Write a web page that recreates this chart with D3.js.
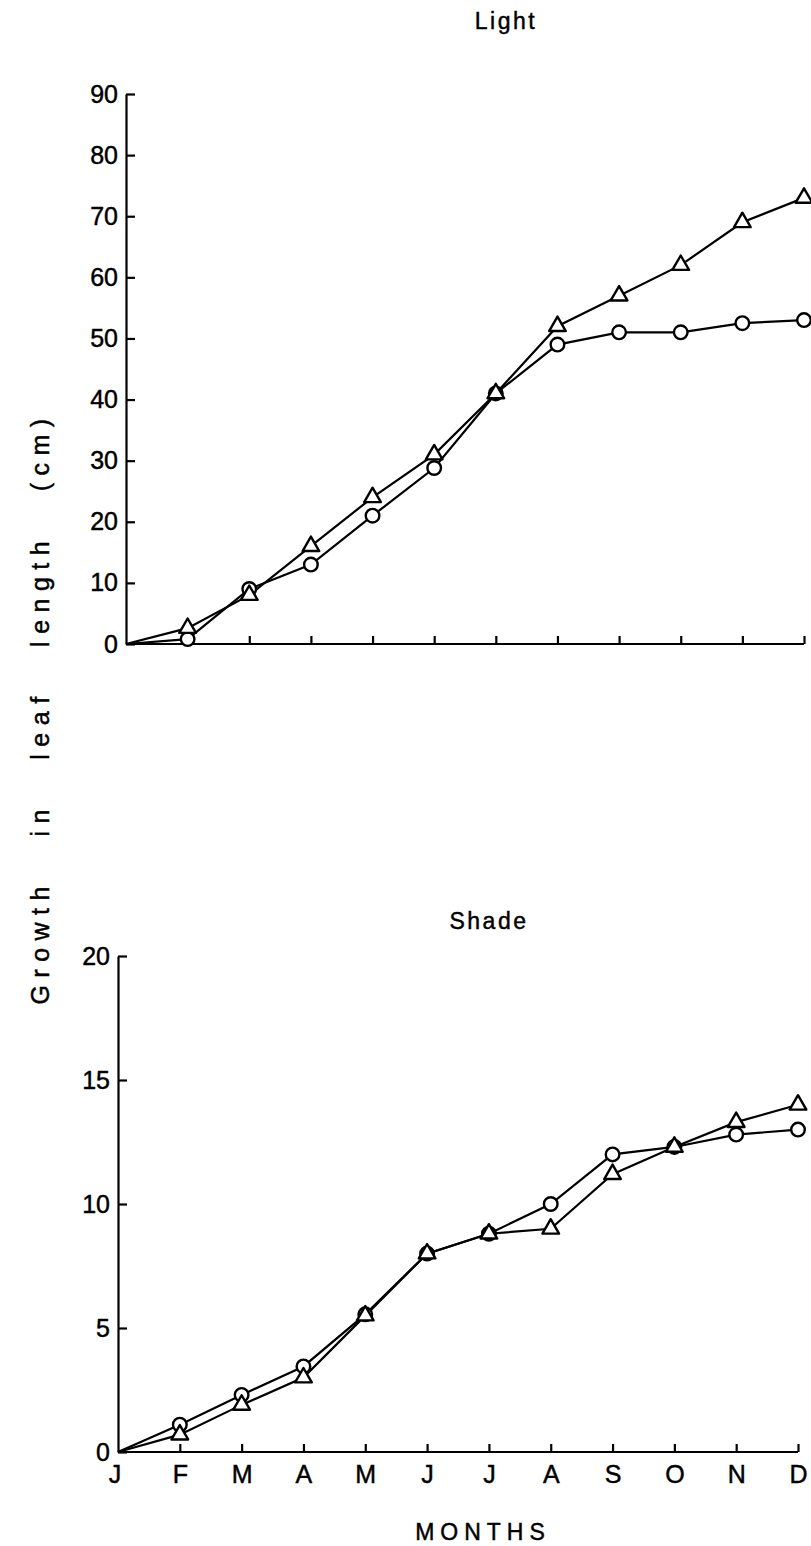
<!DOCTYPE html>
<html>
<head>
<meta charset="utf-8">
<script src="https://cdn.jsdelivr.net/npm/d3@7"></script>
<style>
  html, body { margin: 0; padding: 0; background: #fff; }
  svg { display: block; }
  text { font-family: "Liberation Sans", Arial, sans-serif; fill: #000; stroke: #000; stroke-width: 0.45px; }
</style>
</head>
<body>
<svg id="chart" width="811" height="1546"></svg>
<script>
// Month initials along the x axis (January .. December)
const months = ["J", "F", "M", "A", "M", "J", "J", "A", "S", "O", "N", "D"];

// Growth in leaf length (cm), plants grown in light
const lightTriangle = [0, 2.6, 8, 16, 24, 31, 41, 52, 57, 62, 69, 73];
const lightCircle   = [0, 0.8, 9, 13, 21, 28.8, 41, 49, 51, 51, 52.5, 53];

// Growth in leaf length (cm), plants grown in shade
const shadeTriangle = [0, 0.7, 1.9, 3.0, 5.5, 8.0, 8.8, 9.0, 11.2, 12.3, 13.3, 14.0];
const shadeCircle   = [0, 1.1, 2.3, 3.45, 5.55, 8.0, 8.8, 10.0, 12.0, 12.3, 12.8, 13.0];

const lightTicks = [0, 10, 20, 30, 40, 50, 60, 70, 80, 90];
const shadeTicks = [0, 5, 10, 15, 20];

const svg = d3.select("#chart");
const idx = d3.range(months.length);

function drawPanel(opts) {
  const { x, y, yTicks, title, titleX, titleY, series, showLabels } = opts;
  const g = svg.append("g");

  // x axis: short ticks pointing up into the plot
  const xAxis = d3.axisBottom(x)
    .tickValues(idx.slice(1))
    .tickSizeInner(-8)
    .tickSizeOuter(0)
    .tickPadding(showLabels ? 13 : 0)
    .tickFormat(i => showLabels ? months[i] : "");
  const gx = g.append("g")
    .attr("transform", `translate(0,${y(0)})`)
    .call(xAxis);
  gx.select(".domain").attr("d", `M${x(0)},0H${x(11)}`);

  if (showLabels) {
    // label for the first month sits at the origin
    gx.append("text")
      .attr("x", x(0) - 3).attr("y", 13).attr("dy", "0.71em")
      .attr("text-anchor", "middle")
      .text(months[0]);
  }

  // y axis: ticks pointing right into the plot
  const yAxis = d3.axisLeft(y)
    .tickValues(yTicks)
    .tickSizeInner(-9)
    .tickSizeOuter(0)
    .tickPadding(8)
    .tickFormat(d3.format("d"));
  const gy = g.append("g")
    .attr("transform", `translate(${x(0)},0)`)
    .call(yAxis);

  [gx, gy].forEach(a => {
    a.selectAll(".domain, .tick line").attr("stroke", "#000").attr("stroke-width", 2.2);
    a.selectAll("text").attr("font-size", 25).attr("fill", "#000");
  });

  // panel title
  g.append("text")
    .attr("x", titleX).attr("y", titleY)
    .attr("text-anchor", "middle")
    .attr("font-size", 23)
    .attr("letter-spacing", 2.5)
    .text(title);

  const line = d3.line().x((d, i) => x(i)).y(d => y(d));

  series.forEach(s => {
    g.append("path")
      .datum(s.values)
      .attr("d", line)
      .attr("fill", "none")
      .attr("stroke", "#000")
      .attr("stroke-width", 2.2);
  });

  // markers (none at the January origin)
  series.forEach(s => {
    const pts = s.values.map((v, i) => ({ i, v })).filter(d => d.i > 0);
    if (s.shape === "circle") {
      g.selectAll(null).data(pts).join("circle")
        .attr("cx", d => x(d.i)).attr("cy", d => y(d.v))
        .attr("r", 6.8)
        .attr("fill", "#fff").attr("stroke", "#000").attr("stroke-width", 2.4);
    } else {
      const tri = d3.symbol().type(d3.symbolTriangle).size(120);
      g.selectAll(null).data(pts).join("path")
        .attr("transform", d => `translate(${x(d.i)},${y(d.v)})`)
        .attr("d", tri)
        .attr("fill", "#fff").attr("stroke", "#000").attr("stroke-width", 2.4)
        .attr("stroke-linejoin", "round");
    }
  });
}

drawPanel({
  x: d3.scaleLinear().domain([0, 11]).range([126, 804]),
  y: d3.scaleLinear().domain([0, 90]).range([644, 94]),
  yTicks: lightTicks,
  title: "Light", titleX: 506, titleY: 29,
  series: [
    { values: lightCircle, shape: "circle" },
    { values: lightTriangle, shape: "triangle" }
  ],
  showLabels: false
});

drawPanel({
  x: d3.scaleLinear().domain([0, 11]).range([118, 798]),
  y: d3.scaleLinear().domain([0, 20]).range([1452, 956]),
  yTicks: shadeTicks,
  title: "Shade", titleX: 489, titleY: 929,
  series: [
    { values: shadeCircle, shape: "circle" },
    { values: shadeTriangle, shape: "triangle" }
  ],
  showLabels: true
});

// shared axis titles
svg.append("text")
  .attr("transform", "translate(49,708) rotate(-90)")
  .attr("text-anchor", "middle")
  .attr("font-size", 25)
  .attr("letter-spacing", 7.5)
  .attr("word-spacing", 28)
  .text("Growth in leaf length (cm)");

svg.append("text")
  .attr("x", 483).attr("y", 1540)
  .attr("text-anchor", "middle")
  .attr("font-size", 23)
  .attr("letter-spacing", 6)
  .text("MONTHS");
</script>
</body>
</html>
